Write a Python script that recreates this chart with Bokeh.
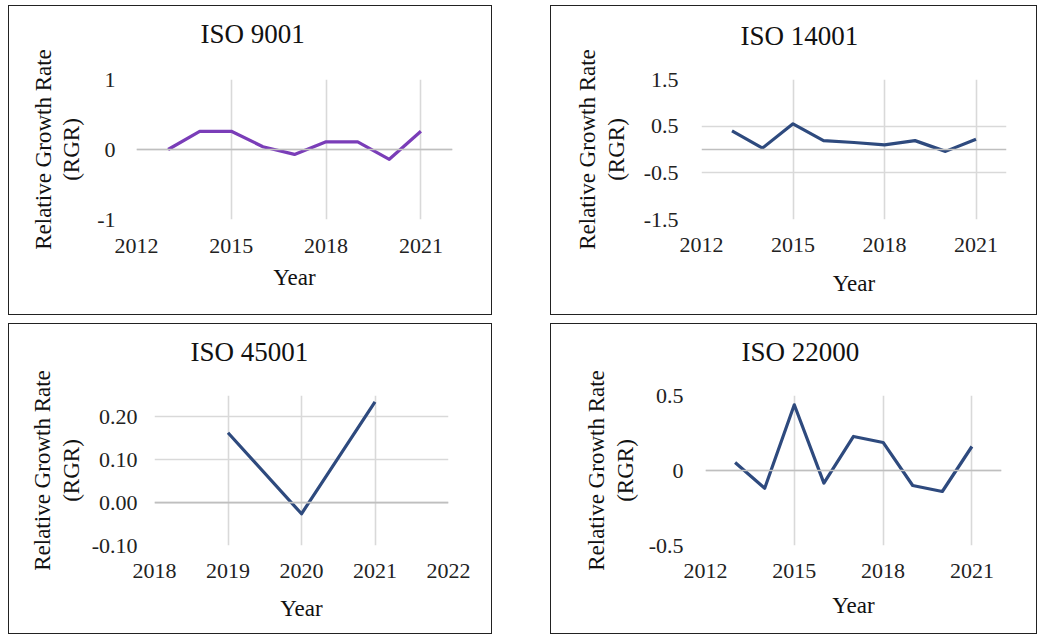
from bokeh.plotting import figure
from bokeh.layouts import column, row
from bokeh.models import Range1d, FixedTicker, Title, Span
from bokeh.embed import file_html
from bokeh.resources import INLINE

# ---- data ----
years_main = [2013, 2014, 2015, 2016, 2017, 2018, 2019, 2020, 2021]
rgr_9001 = [0.00, 0.26, 0.26, 0.04, -0.07, 0.11, 0.11, -0.14, 0.26]
rgr_14001 = [0.40, 0.03, 0.55, 0.19, 0.15, 0.10, 0.19, -0.04, 0.22]
years_45001 = [2019, 2020, 2021]
rgr_45001 = [0.163, -0.026, 0.235]
rgr_22000 = [0.053, -0.118, 0.438, -0.084, 0.227, 0.187, -0.10, -0.14, 0.16]

titles = ["ISO 9001", "ISO 14001", "ISO 45001", "ISO 22000"]
x_ticks_main = [2012, 2015, 2018, 2021]
x_ticks_45001 = [2018, 2019, 2020, 2021, 2022]
y_ticks_9001 = [-1, 0, 1]
y_labels_9001 = ["-1", "0", "1"]
y_ticks_14001 = [-1.5, -0.5, 0.5, 1.5]
y_labels_14001 = ["-1.5", "-0.5", "0.5", "1.5"]
y_ticks_45001 = [-0.1, 0.0, 0.1, 0.2]
y_labels_45001 = ["-0.10", "0.00", "0.10", "0.20"]
y_ticks_22000 = [-0.5, 0, 0.5]
y_labels_22000 = ["-0.5", "0", "0.5"]

FONT = "Liberation Serif"
GRID = "#d9d9d9"
ZERO = "#bfbfbf"
PURPLE = "#7A3DB8"
BLUE = "#2E4A7E"


def panel(title, xs, ys, color, xr, yr, xt, yt, ylabels, w, h,
          left, right, top, bottom, title_offset, title_gap,
          ytick_standoff, ylab_standoff, xtick_standoff, xlab_standoff):
    p = figure(width=w, height=h, output_backend="svg", toolbar_location=None,
               x_range=Range1d(*xr), y_range=Range1d(*yr),
               min_border_left=left, min_border_right=right,
               min_border_top=top, min_border_bottom=bottom,
               title=None, background_fill_color="white",
               border_fill_color="white")
    p.styles = {"border": "1px solid #222"}
    p.outline_line_color = None
    # spacer between frame and chart title
    p.add_layout(Title(text=" ", text_font_size="1px", standoff=title_gap),
                 "above")
    p.add_layout(Title(text=title, align="left", offset=title_offset,
                       text_font=FONT, text_font_size="27px",
                       text_font_style="normal", text_color="#111",
                       standoff=0), "above")
    p.add_layout(Title(text="Relative Growth Rate", align="center",
                       text_font=FONT, text_font_size="23px",
                       text_font_style="normal", text_color="#111",
                       standoff=2), "left")
    # axes
    p.xaxis.ticker = FixedTicker(ticks=xt)
    p.yaxis.ticker = FixedTicker(ticks=yt)
    p.yaxis.major_label_overrides = {float(v): s for v, s in zip(yt, ylabels)}
    p.xaxis.axis_label = "Year"
    p.yaxis.axis_label = "(RGR)"
    for ax in (p.xaxis[0], p.yaxis[0]):
        ax.axis_line_color = None
        ax.major_tick_line_color = None
        ax.minor_tick_line_color = None
        ax.major_tick_in = 0
        ax.major_tick_out = 0
        ax.minor_tick_in = 0
        ax.minor_tick_out = 0
        ax.major_label_text_font = FONT
        ax.major_label_text_font_size = "22px"
        ax.major_label_text_color = "#222"
        ax.axis_label_text_font = FONT
        ax.axis_label_text_font_size = "23px"
        ax.axis_label_text_font_style = "normal"
        ax.axis_label_text_color = "#111"
    p.xaxis.major_label_standoff = xtick_standoff
    p.xaxis.axis_label_standoff = xlab_standoff
    p.yaxis.major_label_standoff = ytick_standoff
    p.yaxis.axis_label_standoff = ylab_standoff
    p.xgrid.ticker = FixedTicker(ticks=xt)
    p.ygrid.ticker = FixedTicker(ticks=yt)
    p.grid.grid_line_color = GRID
    p.grid.grid_line_width = 1.6
    p.add_layout(Span(location=0, dimension="width", line_color=ZERO,
                      line_width=1.6))
    p.line(xs, ys, line_color=color, line_width=3.2, line_join="round")
    return p


p1 = panel(titles[0], years_main, rgr_9001, PURPLE, (2012, 2022), (-1, 1),
           x_ticks_main, y_ticks_9001, y_labels_9001, 484, 310,
           127, 41, 71, 97, 64, 28, 21, 10, 19, 9)
p2 = panel(titles[1], years_main, rgr_14001, BLUE, (2012, 2022), (-1.5, 1.5),
           x_ticks_main, y_ticks_14001, y_labels_14001, 487, 310,
           150, 32, 73, 97, 39, 26, 23, 12, 18, 16)
p3 = panel(titles[2], years_45001, rgr_45001, BLUE, (2018, 2022), (-0.1, 0.25),
           x_ticks_45001, y_ticks_45001, y_labels_45001, 484, 311,
           145, 45, 69, 89, 36, 26, 17, 5, 18, 15)
p4 = panel(titles[3], years_main, rgr_22000, BLUE, (2012, 2022), (-0.5, 0.5),
           x_ticks_main, y_ticks_22000, y_labels_22000, 487, 311,
           154, 37, 71, 90, 36, 26, 22, 8, 18, 12)

layout = column(row(p1, p2, spacing=58), row(p3, p4, spacing=58), spacing=8,
                margin=(5, 0, 0, 8))
open("out.html", "w").write(file_html(layout, INLINE))
